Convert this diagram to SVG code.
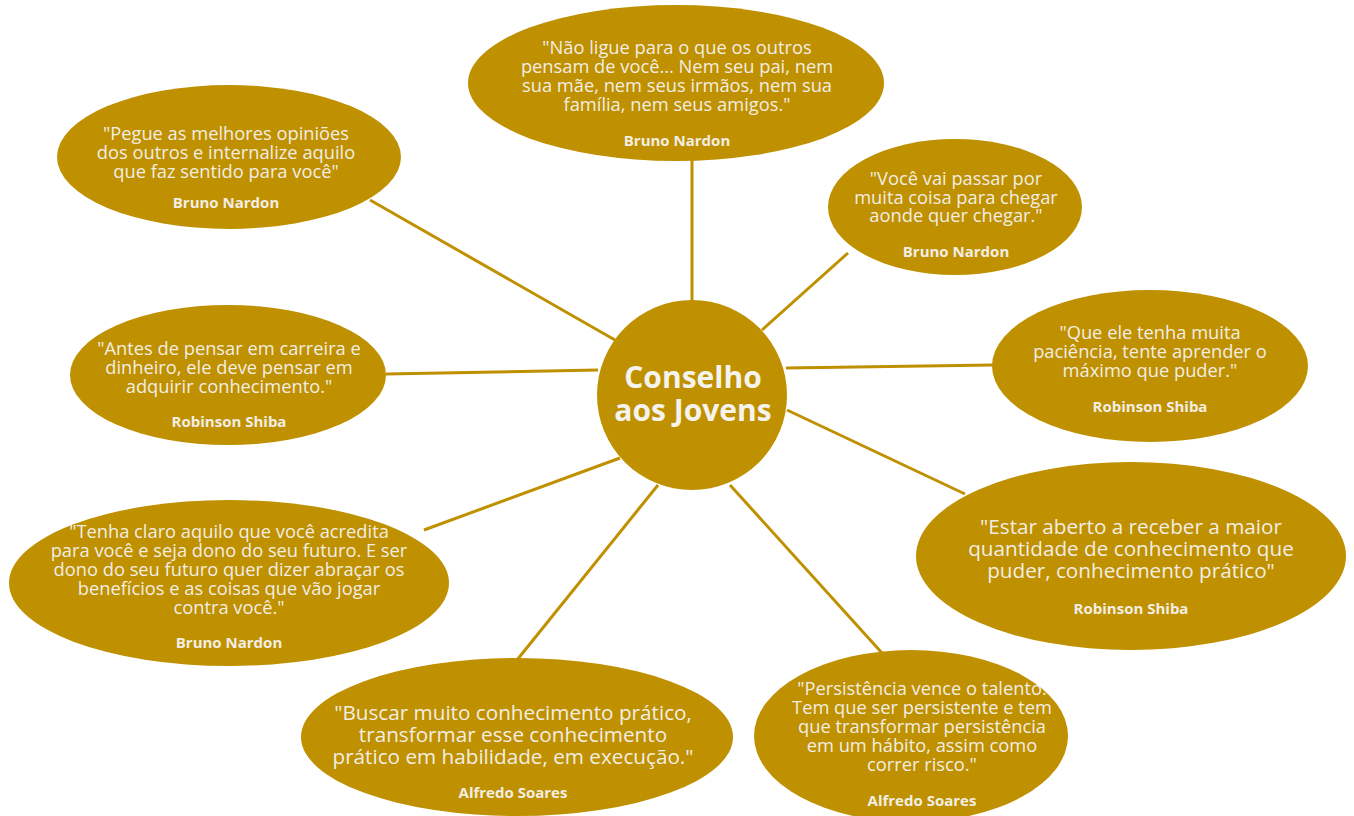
<svg xmlns="http://www.w3.org/2000/svg" width="1354" height="816" viewBox="0 0 1354 816">
  <style>
    .bubble { fill: #BF9000; }
    .link { stroke: #BF9000; stroke-width: 3; fill: none; }
    .quote { font-family: "Open Sans", "Liberation Sans", sans-serif; font-size: 18.3px; fill: #F2EEE4; text-anchor: middle; }
    .quote.big { font-size: 20.7px; }
    .author { font-family: "Open Sans", "Liberation Sans", sans-serif; font-size: 15px; font-weight: bold; fill: #F2EEE4; text-anchor: middle; }
    .title { font-family: "Open Sans", "Liberation Sans", sans-serif; font-size: 30px; font-weight: bold; fill: #F5F3EE; text-anchor: middle; }
  </style>
  <rect width="1354" height="816" fill="#FFFFFF"/>

  <!-- spokes from the hub to each quote -->
  <g id="connectors">
    <line class="link" x1="692" y1="160" x2="692" y2="302"/>
    <line class="link" x1="370" y1="200" x2="615" y2="340"/>
    <line class="link" x1="848" y1="253" x2="762" y2="330"/>
    <line class="link" x1="386" y1="374" x2="598" y2="370"/>
    <line class="link" x1="786" y1="368" x2="993" y2="365"/>
    <line class="link" x1="424" y1="530" x2="620" y2="458"/>
    <line class="link" x1="787" y1="410" x2="965" y2="494"/>
    <line class="link" x1="517" y1="660" x2="658" y2="485"/>
    <line class="link" x1="730" y1="485" x2="882" y2="653"/>
  </g>

  <g id="hub">
    <circle class="bubble" cx="692" cy="395" r="95"/>
    <text class="title" x="693" y="388">Conselho</text>
    <text class="title" x="693" y="421">aos Jovens</text>
  </g>

  <g id="q-nao-ligue">
    <ellipse class="bubble" cx="676" cy="83" rx="208" ry="78"/>
    <text class="quote" x="677" y="54">"Não ligue para o que os outros</text>
    <text class="quote" x="677" y="73">pensam de você... Nem seu pai, nem</text>
    <text class="quote" x="677" y="92">sua mãe, nem seus irmãos, nem sua</text>
    <text class="quote" x="677" y="111">família, nem seus amigos."</text>
    <text class="author" x="677" y="146">Bruno Nardon</text>
  </g>

  <g id="q-pegue">
    <ellipse class="bubble" cx="229" cy="157" rx="172" ry="72"/>
    <text class="quote" x="226" y="140">"Pegue as melhores opiniões</text>
    <text class="quote" x="226" y="159">dos outros e internalize aquilo</text>
    <text class="quote" x="226" y="178">que faz sentido para você"</text>
    <text class="author" x="226" y="208">Bruno Nardon</text>
  </g>

  <g id="q-voce-vai">
    <ellipse class="bubble" cx="955" cy="207" rx="127" ry="68"/>
    <text class="quote" x="956" y="185">"Você vai passar por</text>
    <text class="quote" x="956" y="204">muita coisa para chegar</text>
    <text class="quote" x="956" y="222">aonde quer chegar."</text>
    <text class="author" x="956" y="257">Bruno Nardon</text>
  </g>

  <g id="q-antes">
    <ellipse class="bubble" cx="228" cy="375" rx="158" ry="70"/>
    <text class="quote" x="229" y="355">"Antes de pensar em carreira e</text>
    <text class="quote" x="229" y="374">dinheiro, ele deve pensar em</text>
    <text class="quote" x="229" y="393">adquirir conhecimento."</text>
    <text class="author" x="229" y="427">Robinson Shiba</text>
  </g>

  <g id="q-que-ele">
    <ellipse class="bubble" cx="1150" cy="366" rx="158" ry="76"/>
    <text class="quote" x="1150" y="339">"Que ele tenha muita</text>
    <text class="quote" x="1150" y="358">paciência, tente aprender o</text>
    <text class="quote" x="1150" y="377">máximo que puder."</text>
    <text class="author" x="1150" y="412">Robinson Shiba</text>
  </g>

  <g id="q-tenha">
    <ellipse class="bubble" cx="229" cy="583" rx="220" ry="83"/>
    <text class="quote" x="229" y="538">"Tenha claro aquilo que você acredita</text>
    <text class="quote" x="229" y="557">para você e seja dono do seu futuro. E ser</text>
    <text class="quote" x="229" y="576">dono do seu futuro quer dizer abraçar os</text>
    <text class="quote" x="229" y="595">benefícios e as coisas que vão jogar</text>
    <text class="quote" x="229" y="614">contra você."</text>
    <text class="author" x="229" y="648">Bruno Nardon</text>
  </g>

  <g id="q-estar">
    <ellipse class="bubble" cx="1131" cy="556" rx="215" ry="94"/>
    <text class="quote big" x="1131" y="534">"Estar aberto a receber a maior</text>
    <text class="quote big" x="1131" y="556">quantidade de conhecimento que</text>
    <text class="quote big" x="1131" y="578">puder, conhecimento prático"</text>
    <text class="author" x="1131" y="614">Robinson Shiba</text>
  </g>

  <g id="q-buscar">
    <ellipse class="bubble" cx="517" cy="737" rx="216" ry="79"/>
    <text class="quote big" x="513" y="720">"Buscar muito conhecimento prático,</text>
    <text class="quote big" x="513" y="742">transformar esse conhecimento</text>
    <text class="quote big" x="513" y="764">prático em habilidade, em execução."</text>
    <text class="author" x="513" y="798">Alfredo Soares</text>
  </g>

  <g id="q-persistencia">
    <ellipse class="bubble" cx="911" cy="736" rx="157" ry="86"/>
    <text class="quote" x="922" y="695">"Persistência vence o talento.</text>
    <text class="quote" x="922" y="714">Tem que ser persistente e tem</text>
    <text class="quote" x="922" y="733">que transformar persistência</text>
    <text class="quote" x="922" y="752">em um hábito, assim como</text>
    <text class="quote" x="922" y="771">correr risco."</text>
    <text class="author" x="922" y="806">Alfredo Soares</text>
  </g>
</svg>
